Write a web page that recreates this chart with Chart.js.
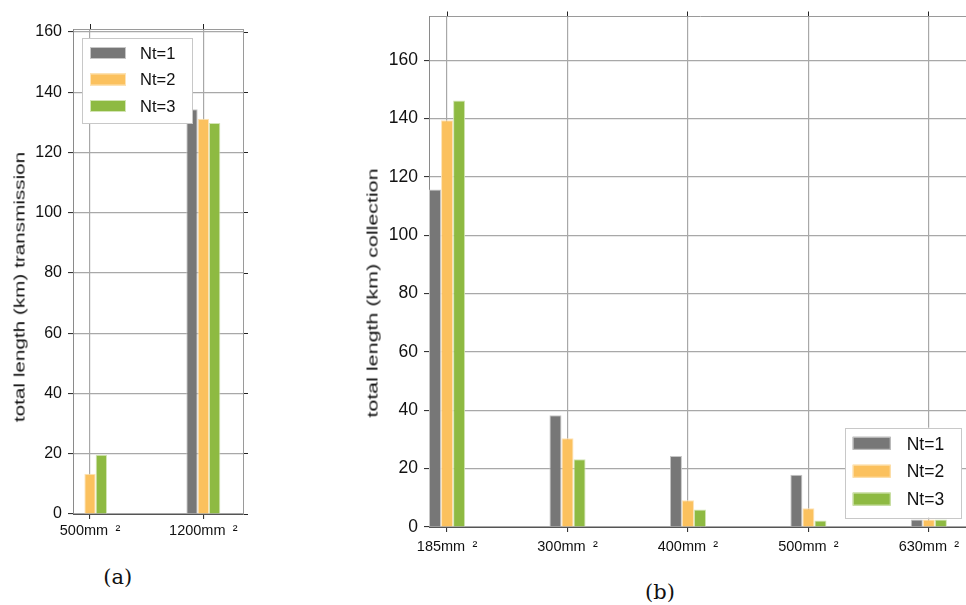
<!DOCTYPE html>
<html>
<head>
<meta charset="utf-8">
<script src="https://cdn.jsdelivr.net/npm/chart.js@4.4.1/dist/chart.umd.min.js"></script>
<style>
html,body{margin:0;padding:0;background:#fff;}
body{width:966px;height:605px;overflow:hidden;position:relative;font-family:'Liberation Sans',Arial,sans-serif;}
canvas{position:absolute;}
.yt{position:absolute;white-space:nowrap;font-size:15px;line-height:15px;color:#111;font-family:'Liberation Sans',Arial,sans-serif;}
.cap{position:absolute;white-space:nowrap;font-family:'DejaVu Serif',serif;font-size:21px;line-height:21px;color:#111;transform:translate(-50%,-50%);}
</style>
</head>
<body>
<canvas id="cA" width="260" height="560" style="left:0;top:0"></canvas>
<canvas id="cB" width="622" height="575" style="left:360px;top:0"></canvas>
<div class="yt" id="tA" style="left:18.5px;top:286.7px;transform:translate(-50%,-50%) rotate(-90deg) scaleX(1.38)">total length (km) transmission</div>
<div class="yt" id="tB" style="left:371.7px;top:292.5px;transform:translate(-50%,-50%) rotate(-90deg) scaleX(1.43)">total length (km) collection</div>
<div class="cap" style="left:117.7px;top:577px">(a)</div>
<div class="cap" style="left:660px;top:592px">(b)</div>
<script>
// ---------------- data ----------------
const seriesNames = ['Nt=1', 'Nt=2', 'Nt=3'];

const transCategories = ['500mm\u2002²', '1200mm\u2002²'];
const transNt1 = [0, 134.4];
const transNt2 = [13.4, 131.2];
const transNt3 = [19.7, 129.8];

const collCategories = ['185mm\u2002²', '300mm\u2002²', '400mm\u2002²', '500mm\u2002²', '630mm\u2002²'];
const collNt1 = [115.7, 38.3, 24.3, 17.9, 2.6];
const collNt2 = [139.4, 30.4, 9.2, 6.4, 2.6];
const collNt3 = [146.2, 23.2, 6.0, 2.2, 2.6];

const yTickValues = [0, 20, 40, 60, 80, 100, 120, 140, 160];

// ---------------- style ----------------
const seriesColors = ['#777777', '#FBC15E', '#8EBA42'];
const seriesEdges = ['#c6c6c6', '#fde3b6', '#d3e5b5'];
const FONT = "'Liberation Sans', Arial, sans-serif";
const GRID = '#a8a8a8';
const TICK = '#222222';

Chart.defaults.font.family = FONT;
Chart.defaults.color = '#111';

function makeDatasets(series) {
  return series.map((vals, s) => ({
    label: seriesNames[s],
    data: vals.map((v, i) => ({ x: i, y: v })),
    backgroundColor: seriesColors[s],
    borderColor: seriesEdges[s],
    borderWidth: c => (c.raw && c.raw.y === 0 ? 0 : 1),
    categoryPercentage: 0.3,
    barPercentage: 1.0
  }));
}

const boxLegend = {
  id: 'boxLegend',
  afterDatasetsDraw(chart, args, o) {
    const { ctx, chartArea } = chart;
    const x = o.anchor === 'tl' ? chartArea.left + o.dx : chartArea.right - o.dx - o.w;
    const y = o.anchor === 'tl' ? chartArea.top + o.dy : chartArea.bottom - o.dy - o.h;
    ctx.save();
    ctx.fillStyle = '#ffffff';
    ctx.fillRect(x, y, o.w, o.h);
    ctx.strokeStyle = '#c8c8c8';
    ctx.lineWidth = 1;
    ctx.strokeRect(Math.round(x) + 0.5, Math.round(y) + 0.5, Math.round(o.w), Math.round(o.h));
    ctx.font = o.fontSize + 'px ' + FONT;
    ctx.textAlign = 'left';
    ctx.textBaseline = 'alphabetic';
    chart.data.datasets.forEach((ds, i) => {
      const cy = y + o.firstRow + i * o.rowGap;
      ctx.fillStyle = ds.backgroundColor;
      ctx.fillRect(x + o.sx, cy - o.sh / 2, o.sw, o.sh);
      ctx.strokeStyle = ds.borderColor;
      ctx.strokeRect(x + o.sx + 0.5, cy - o.sh / 2 + 0.5, o.sw - 1, o.sh - 1);
      ctx.fillStyle = '#111';
      ctx.fillText(ds.label, x + o.tx, cy + 0.358 * o.fontSize);
    });
    ctx.restore();
  }
};

function makeScales(o) {
  const catTicks = sc => { sc.ticks = o.cats.map((_, i) => ({ value: i })); };
  const yTicks = sc => { sc.ticks = yTickValues.map(v => ({ value: v })); };
  const s = {
    x: {
      type: 'linear', axis: 'x', position: 'bottom', min: o.xmin, max: o.xmax, offset: false,
      afterBuildTicks: catTicks,
      afterFit: sc => { sc.height = o.bottomH; },
      ticks: { callback: v => o.cats[v], autoSkip: false, maxRotation: 0, minRotation: 0,
               color: '#111', font: { size: 14.5 }, padding: o.xPad },
      grid: { offset: false, color: GRID, lineWidth: 1.2, tickColor: TICK, tickLength: 5, tickWidth: 1 },
      border: { color: '#555555', width: 1, z: 1 }
    },
    xTop: {
      type: 'linear', axis: 'x', position: 'top', min: o.xmin, max: o.xmax, offset: false,
      afterBuildTicks: catTicks,
      afterFit: sc => { sc.height = o.topH; },
      ticks: { display: false },
      grid: { offset: false, drawOnChartArea: false, tickColor: TICK, tickLength: 5, tickWidth: 1 },
      border: { color: '#9a9a9a', width: 1 }
    },
    y: {
      type: 'linear', axis: 'y', position: 'left', min: 0, max: o.ymax,
      afterBuildTicks: yTicks,
      afterFit: sc => { sc.width = o.leftW; },
      ticks: { color: '#111', font: { size: o.yFont }, padding: 6 },
      grid: { color: GRID, lineWidth: 1.2, tickColor: TICK, tickLength: 5, tickWidth: 1 },
      border: { color: '#8a8a8a', width: 1 }
    }
  };
  if (o.rightW) {
    s.yRight = {
      type: 'linear', axis: 'y', position: 'right', min: 0, max: o.ymax,
      afterBuildTicks: yTicks,
      afterFit: sc => { sc.width = o.rightW; },
      ticks: { display: false },
      grid: { drawOnChartArea: false, tickColor: TICK, tickLength: 5, tickWidth: 1 },
      border: { color: '#9a9a9a', width: 1 }
    };
  }
  return s;
}

function makeChart(id, cats, series, o, legendOpts, padRight) {
  return new Chart(document.getElementById(id), {
    type: 'bar',
    data: { datasets: makeDatasets(series) },
    options: {
      responsive: false,
      animation: false,
      devicePixelRatio: 1,
      events: [],
      layout: { padding: { left: 0, top: 0, bottom: 0, right: padRight || 0 } },
      plugins: { legend: { display: false }, tooltip: { enabled: false }, boxLegend: legendOpts },
      scales: makeScales(Object.assign({ cats }, o))
    },
    plugins: [boxLegend]
  });
}

makeChart('cA', transCategories, [transNt1, transNt2, transNt3],
  { xmin: -0.15, xmax: 1.35, ymax: 161, leftW: 73, rightW: 17, topH: 29, bottomH: 46, yFont: 16, xPad: 3.5 },
  { anchor: 'tl', dx: 9, dy: 9, w: 110, h: 85, sx: 8, sw: 36, sh: 12, tx: 58, firstRow: 15, rowGap: 26.5, fontSize: 16.5 });

makeChart('cB', collCategories, [collNt1, collNt2, collNt3],
  { xmin: -0.15, xmax: 4.35, ymax: 175, leftW: 69, topH: 14, bottomH: 48, yFont: 17.5, xPad: 6.3 },
  { anchor: 'br', dx: 10, dy: 9.3, w: 116, h: 90, sx: 7.7, sw: 38, sh: 13, tx: 61.7, firstRow: 15.6, rowGap: 27.9, fontSize: 17.5 },
  11);
</script>
</body>
</html>
